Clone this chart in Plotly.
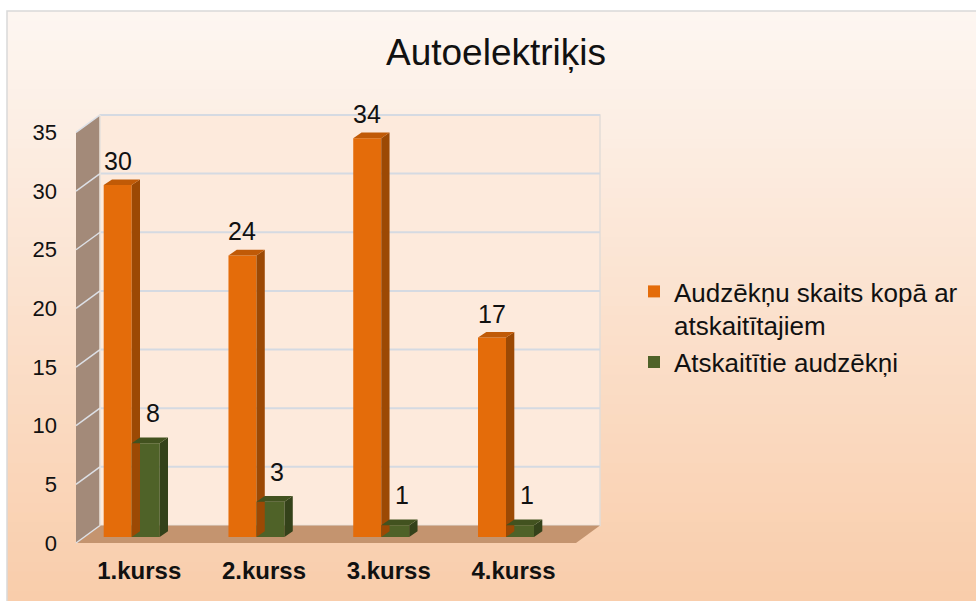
import plotly.graph_objects as go

# ---------------- data ----------------
categories = ["1.kurss", "2.kurss", "3.kurss", "4.kurss"]
series_names = ["Audzēkņu skaits kopā ar<br>atskaitītajiem", "Atskaitītie audzēkņi"]
total_students = [30, 24, 34, 17]
expelled_students = [8, 3, 1, 1]
y_ticks = [0, 5, 10, 15, 20, 25, 30, 35]
title_text = "Autoelektriķis"

# ---------------- geometry / style (pixels) ----------------
W, H = 976, 601
X0_PX, XSTEP_PX = 131.7, 124.77      # pixel of first category centre, px per category
Y0_PX, YUNIT_PX = 537.0, 11.73       # pixel of value 0 (bar plane), px per unit
BAR_W_PX = 28
BAR_DX_PX, BAR_DY_PX = 8.3, 5.7      # bar depth
WALL_DX_PX, WALL_DY_PX = 24.0, 17.5  # wall/floor depth
FRONT_DY_PX = 6.0                    # bar plane is behind front edge
WALL_LEFT_PX, FLOOR_RIGHT_PX = 76.0, 576.0

def dxu(px):
    return px / XSTEP_PX

def dyu(px):
    return px / YUNIT_PX

x_range = [-X0_PX / XSTEP_PX, (W - X0_PX) / XSTEP_PX]
y_range = [-(H - Y0_PX) / YUNIT_PX, Y0_PX / YUNIT_PX]

XL_F = (WALL_LEFT_PX - X0_PX) / XSTEP_PX
XR_F = (FLOOR_RIGHT_PX - X0_PX) / XSTEP_PX
WDX, WDY = dxu(WALL_DX_PX), dyu(WALL_DY_PX)
FDY = -dyu(FRONT_DY_PX)
YMAX = max(y_ticks)

ORANGE = "#e46c0a"; ORANGE_SIDE = "#9c4904"; ORANGE_TOP = "#c05a07"
GREEN = "#4f6228"; GREEN_SIDE = "#34421a"; GREEN_TOP = "#42521f"
LEFT_WALL = "#a38a79"; FLOOR = "#c4946f"; BACK_WALL = "#fdeadc"
GRID = "#d5dae2"
FONT = "Liberation Sans, Arial, sans-serif"

xpos = list(range(len(categories)))
bw = dxu(BAR_W_PX)
bdx, bdy = dxu(BAR_DX_PX), dyu(BAR_DY_PX)

fig = go.Figure()

# ---------------- background (gradient) ----------------
shapes = []
def hexmix(c1, c2, t):
    a = [int(c1[i:i + 2], 16) for i in (1, 3, 5)]
    b = [int(c2[i:i + 2], 16) for i in (1, 3, 5)]
    return "#%02x%02x%02x" % tuple(round(a[i] + (b[i] - a[i]) * t) for i in range(3))

N = 60
top_px = 11
for i in range(N):
    p0 = top_px + (H - top_px) * i / N
    p1 = top_px + (H - top_px) * (i + 1) / N + 0.8
    col = hexmix("#fdf6f1", "#f9cdab", i / (N - 1))
    shapes.append(dict(type="rect", xref="paper", yref="paper", layer="below",
                       x0=7 / W, x1=1.0, y0=1 - min(p1, H) / H, y1=1 - p0 / H,
                       fillcolor=col, line=dict(width=0)))
shapes.append(dict(type="rect", xref="paper", yref="paper", layer="below",
                   x0=7 / W, x1=1.05, y0=-0.05, y1=1 - top_px / H,
                   fillcolor="rgba(0,0,0,0)", line=dict(color="#d9d9d9", width=1.5)))

# ---------------- walls and floor ----------------
def path(pts):
    return "M " + " L ".join(f"{x},{y}" for x, y in pts) + " Z"

yb0, yb1 = FDY + WDY, YMAX + FDY + WDY
# back wall
shapes.append(dict(type="path", xref="x", yref="y", layer="below",
                   path=path([(XL_F + WDX, yb0), (XR_F + WDX, yb0), (XR_F + WDX, yb1), (XL_F + WDX, yb1)]),
                   fillcolor=BACK_WALL, line=dict(color="#e2ddd8", width=1.5)))
# left wall
shapes.append(dict(type="path", xref="x", yref="y", layer="below",
                   path=path([(XL_F, FDY), (XL_F + WDX, yb0), (XL_F + WDX, yb1), (XL_F, YMAX + FDY)]),
                   fillcolor=LEFT_WALL, line=dict(width=0)))
# floor
shapes.append(dict(type="path", xref="x", yref="y", layer="below",
                   path=path([(XL_F, FDY), (XR_F, FDY), (XR_F + WDX, yb0), (XL_F + WDX, yb0)]),
                   fillcolor=FLOOR, line=dict(width=0)))
# gridlines
for v in y_ticks:
    if v > 0:
        shapes.append(dict(type="line", xref="x", yref="y", layer="below",
                           x0=XL_F + WDX, x1=XR_F + WDX, y0=v + FDY + WDY, y1=v + FDY + WDY,
                           line=dict(color=GRID, width=2)))
    shapes.append(dict(type="line", xref="x", yref="y", layer="below",
                       x0=XL_F, x1=XL_F + WDX, y0=v + FDY, y1=v + FDY + WDY,
                       line=dict(color="#dde0e6", width=1.5)))
shapes.append(dict(type="line", xref="x", yref="y", layer="below",
                   x0=XL_F + WDX, x1=XL_F + WDX, y0=yb0, y1=yb1,
                   line=dict(color="#ece4dc", width=1.5)))

# ---------------- bars ----------------
series = [
    (series_names[0], total_students, -bw, ORANGE, ORANGE_SIDE, ORANGE_TOP),
    (series_names[1], expelled_students, 0.0, GREEN, GREEN_SIDE, GREEN_TOP),
]
for name, vals, off, cf, cs, ct in series:
    fig.add_trace(go.Bar(x=xpos, y=vals, width=bw, offset=off, name=name,
                         marker=dict(color=cf, line=dict(width=0)), hoverinfo="x+y"))
for name, vals, off, cf, cs, ct in series:
    sx, sy, tx, ty = [], [], [], []
    for k, v in zip(xpos, vals):
        xl, xr = k + off, k + off + bw
        sx += [xr, xr + bdx, xr + bdx, xr, xr, None]
        sy += [0, bdy, v + bdy, v, 0, None]
        tx += [xl, xr, xr + bdx, xl + bdx, xl, None]
        ty += [v, v, v + bdy, v + bdy, v, None]
    fig.add_trace(go.Scatter(x=sx, y=sy, fill="toself", fillcolor=cs, mode="lines",
                             line=dict(width=0, color=cs), showlegend=False, hoverinfo="skip"))
    fig.add_trace(go.Scatter(x=tx, y=ty, fill="toself", fillcolor=ct, mode="lines",
                             line=dict(width=0, color=ct), showlegend=False, hoverinfo="skip"))

# ---------------- data labels ----------------
annotations = []
for k, v in zip(xpos, total_students):
    annotations.append(dict(x=k - bw / 2, y=v, xref="x", yref="y", text=str(v), showarrow=False,
                            xanchor="center", yanchor="middle", yshift=24,
                            font=dict(size=25, color="#111111", family=FONT)))
for k, v in zip(xpos, expelled_students):
    annotations.append(dict(x=k + bw / 2, y=v, xref="x", yref="y", text=str(v), showarrow=False,
                            xanchor="center", yanchor="middle", yshift=30, xshift=7,
                            font=dict(size=25, color="#111111", family=FONT)))

fig.update_layout(
    width=W, height=H,
    margin=dict(l=0, r=0, t=0, b=0),
    paper_bgcolor="white", plot_bgcolor="rgba(0,0,0,0)",
    barmode="overlay",
    shapes=shapes, annotations=annotations,
    font=dict(family=FONT, color="#111111"),
    title=dict(text=title_text, x=496 / W, xanchor="center", xref="paper",
               y=1 - 52.5 / H, yanchor="middle", yref="paper",
               font=dict(size=37, color="#111111", family=FONT)),
    xaxis=dict(range=x_range, domain=[0, 1], anchor="free", position=(H - 543) / H,
               tickvals=[k + dxu(7.5) for k in xpos], ticktext=categories,
               tickfont=dict(size=24, weight="bold", family=FONT, color="#111111"),
               showgrid=False, zeroline=False, showline=False, ticks="",
               ticklabelstandoff=11, fixedrange=True),
    yaxis=dict(range=y_range, domain=[0, 1], anchor="free", position=WALL_LEFT_PX / W,
               tickvals=[v + FDY for v in y_ticks], ticktext=[str(v) for v in y_ticks],
               tickfont=dict(size=22, family=FONT, color="#111111"),
               showgrid=False, zeroline=False, showline=False, ticks="",
               ticklabelstandoff=19, fixedrange=True),
    legend=dict(x=634 / W, xanchor="left", y=1 - 268 / H, yanchor="top",
                font=dict(size=26, family=FONT, color="#111111"),
                bgcolor="rgba(0,0,0,0)", valign="top", tracegroupgap=0),
    showlegend=True,
)

fig.write_html("out.html", config={"displayModeBar": False},
               post_script="document.body.style.margin='0';document.body.style.overflow='hidden';")
